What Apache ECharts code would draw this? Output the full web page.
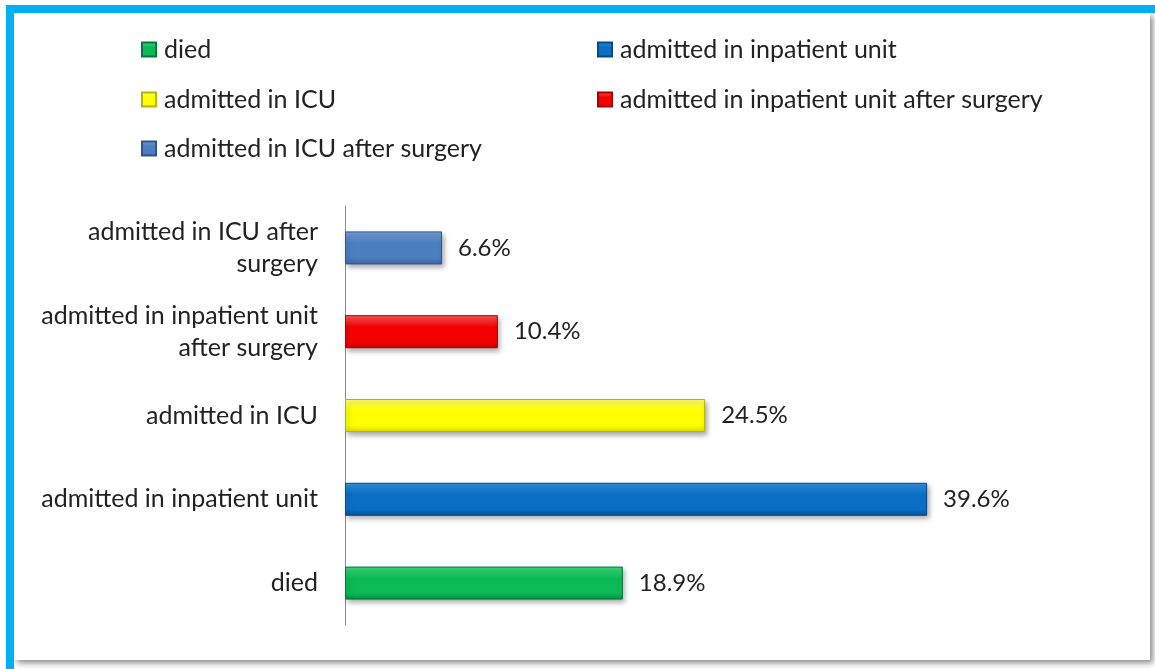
<!DOCTYPE html>
<html>
<head>
<meta charset="utf-8">
<script src="https://cdn.jsdelivr.net/npm/echarts@6/dist/echarts.min.js"></script>
<style>
  html, body { margin: 0; padding: 0; background: #fff; }
  #chart { width: 1155px; height: 669px; }
</style>
</head>
<body>
<div id="chart"></div>
<script>
// categories, bottom to top as on the axis
const categories = [
  'died',
  'admitted in inpatient unit',
  'admitted in ICU',
  'admitted in inpatient unit\nafter surgery',
  'admitted in ICU after\nsurgery'
]
const seriesNames = [
  'died',
  'admitted in inpatient unit',
  'admitted in ICU',
  'admitted in inpatient unit after surgery',
  'admitted in ICU after surgery'
]
const values = [18.9, 39.6, 24.5, 10.4, 6.6]

// [top, middle, bottom, border]
const colors = [
  ['#3ddc7e', '#0cba55', '#079042', '#06773a'],
  ['#2f94e0', '#0a6fc4', '#05529a', '#074a8a'],
  ['#ffff70', '#ffff00', '#e0dc00', '#b8b400'],
  ['#ff5a5a', '#f40000', '#c80000', '#a80000'],
  ['#74a0d8', '#4c7fc0', '#3a66a4', '#2f5590']
]

const chart = echarts.init(document.getElementById('chart'))

function grad (c) {
  return new echarts.graphic.LinearGradient(0, 0, 0, 1, [
    { offset: 0, color: c[0] },
    { offset: 0.35, color: c[1] },
    { offset: 0.8, color: c[1] },
    { offset: 1, color: c[2] }
  ])
}

const series = seriesNames.map((name, i) => {
  const data = values.map((v, j) => (j === i ? v : '-'))
  return {
    name: name,
    type: 'bar',
    stack: 'all',
    barWidth: 33,
    data: data,
    itemStyle: {
      color: grad(colors[i]),
      borderColor: colors[i][3],
      borderWidth: 1,
      shadowBlur: 5,
      shadowColor: 'rgba(0,0,0,0.35)',
      shadowOffsetX: 2,
      shadowOffsetY: 3
    },
    label: {
      show: true,
      position: 'right',
      distance: 16,
      formatter: p => p.value.toFixed(1) + '%',
      color: '#222',
      fontFamily: 'Lato',
      fontSize: 24
    }
  }
})

// legend placed item by item, two columns
const legendPos = [
  [136, 32], [592, 32],
  [136, 82], [592, 82],
  [136, 131]
]
const legends = seriesNames.map((name, i) => ({
  data: [name],
  left: legendPos[i][0],
  top: legendPos[i][1],
  icon: 'rect',
  itemWidth: 14,
  itemHeight: 14,
  itemGap: 8,
  textStyle: { fontFamily: 'Lato', fontSize: 25, color: '#222', padding: [0, 0, 0, 3] },
  selectedMode: false
}))

const option = {
  animation: false,
  backgroundColor: '#fff',
  graphic: [
    {
      type: 'rect',
      z: -10,
      shape: { x: 14, y: 13, width: 1136, height: 647 },
      style: {
        fill: '#fff',
        shadowBlur: 6,
        shadowColor: 'rgba(0,0,0,0.45)',
        shadowOffsetX: 3,
        shadowOffsetY: 3
      }
    },
    { type: 'rect', z: -5, shape: { x: 6, y: 5, width: 1149, height: 8 }, style: { fill: '#00b0f0' } },
    { type: 'rect', z: -5, shape: { x: 6, y: 5, width: 8, height: 664 }, style: { fill: '#00b0f0' } }
  ],
  legend: legends,
  grid: {
    left: 345,
    right: 75,
    top: 206,
    bottom: 44,
    containLabel: false
  },
  xAxis: {
    type: 'value',
    min: 0,
    max: 50,
    show: false
  },
  yAxis: {
    type: 'category',
    data: categories,
    axisLine: { show: true, lineStyle: { color: '#8c8c8c', width: 1 } },
    axisTick: { show: false },
    axisLabel: {
      margin: 27,
      fontFamily: 'Lato',
      fontSize: 25,
      lineHeight: 32,
      color: '#222',
      align: 'right'
    }
  },
  series: series
}

chart.setOption(option)
</script>
</body>
</html>
